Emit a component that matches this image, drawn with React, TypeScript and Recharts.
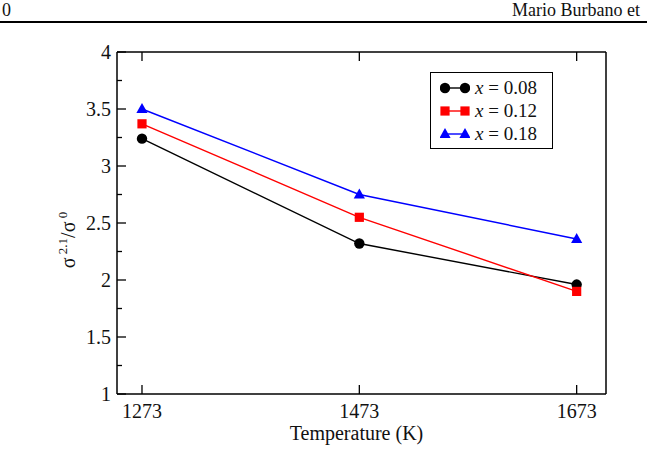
import { LineChart, Line, XAxis, YAxis, Legend } from 'recharts';

// temperatures (K) and the conductivity ratio for each doping level
const temps = [1273, 1473, 1673];
const ratio008 = [3.24, 2.32, 1.96];
const ratio012 = [3.37, 2.55, 1.9];
const ratio018 = [3.5, 2.75, 2.36];

const xTicks = [1273, 1473, 1673];
const yTicks = [1, 1.25, 1.5, 1.75, 2, 2.25, 2.5, 2.75, 3, 3.25, 3.5, 3.75, 4];

const series = [
  { key: 'x008', label: '0.08', color: '#000000', shape: 'circle' },
  { key: 'x012', label: '0.12', color: '#ff0000', shape: 'square' },
  { key: 'x018', label: '0.18', color: '#0000ff', shape: 'triangle' },
];

const data = temps.map((t, i) => ({ temp: t, x008: ratio008[i], x012: ratio012[i], x018: ratio018[i] }));

const FONT = '"Liberation Serif", "Times New Roman", serif';
const LABEL_GAP = 6;
const isMajor = (v: number) => Math.abs(v * 2 - Math.round(v * 2)) < 1e-6;

const Marker = ({ cx, cy, shape, color }: any) => {
  if (shape === 'circle') return <circle cx={cx} cy={cy} r={5.2} fill={color} />;
  if (shape === 'square') return <rect x={cx - 4.6} y={cy - 4.6} width={9.2} height={9.2} fill={color} />;
  return <path d={`M${cx},${cy - 6} L${cx + 5.6},${cy + 4} L${cx - 5.6},${cy + 4} Z`} fill={color} />;
};

const makeDot = (shape: string, color: string) => (props: any) =>
  <Marker key={`${shape}-${props.index}`} cx={props.cx} cy={props.cy} shape={shape} color={color} />;

// left axis: inward ticks, labels only on the half-unit ticks
const LeftTick = ({ x, y, payload }: any) => {
  const edge = x + LABEL_GAP;
  const major = isMajor(payload.value);
  return (
    <g>
      <line x1={edge} x2={edge + (major ? 9 : 5)} y1={y} y2={y} stroke="#000" strokeWidth={1.3} />
      {major && (
        <text x={x} y={y + 7} textAnchor="end" fontFamily={FONT} fontSize={20} fill="#111">
          {payload.value}
        </text>
      )}
    </g>
  );
};

const RightTick = ({ x, y, payload }: any) => {
  const major = isMajor(payload.value);
  return <line x1={x} x2={x - (major ? 9 : 5)} y1={y} y2={y} stroke="#000" strokeWidth={1.3} />;
};

const BottomTick = ({ x, y, payload }: any) => (
  <g>
    <line x1={x} x2={x} y1={y} y2={y - 9} stroke="#000" strokeWidth={1.3} />
    <text x={x} y={y + 24} textAnchor="middle" fontFamily={FONT} fontSize={20} fill="#111">
      {payload.value}
    </text>
  </g>
);

const TopTick = ({ x, y }: any) => <line x1={x} x2={x} y1={y} y2={y + 9} stroke="#000" strokeWidth={1.3} />;

const YLabel = ({ viewBox }: any) => {
  const cx = viewBox.x + 75;
  const cy = viewBox.y + viewBox.height / 2 + 17;
  return (
    <text transform={`translate(${cx},${cy}) rotate(-90)`} textAnchor="middle" fontFamily={FONT} fontSize={20} fill="#111">
      <tspan>σ</tspan>
      <tspan dy={-8} fontSize={13}> 2.1</tspan>
      <tspan dy={8}>/σ</tspan>
      <tspan dy={-8} fontSize={13}> 0</tspan>
    </text>
  );
};

const LegendBox = () => (
  <div style={{ border: '1.5px solid #000', background: '#fff', padding: '3px 0 3px 9px', fontFamily: FONT, fontSize: 19, lineHeight: '23px', color: '#111' }}>
    {series.map(s => (
      <div key={s.key} style={{ display: 'flex', alignItems: 'center', whiteSpace: 'nowrap' }}>
        <svg width={30} height={14} style={{ marginRight: 5 }}>
          <line x1={4} x2={26} y1={7} y2={7} stroke={s.color} strokeWidth={1.4} />
          <Marker cx={5} cy={7} shape={s.shape} color={s.color} />
          <Marker cx={25} cy={7} shape={s.shape} color={s.color} />
        </svg>
        <span><i>x</i> = {s.label}</span>
      </div>
    ))}
  </div>
);

export default function App() {
  return (
    <div style={{ position: 'absolute', left: 0, top: 0, width: 647, height: 454, background: '#fff', fontFamily: FONT }}>
      <div style={{ position: 'absolute', left: 2, top: 0, fontSize: 18, color: '#111' }}>0</div>
      <div style={{ position: 'absolute', right: 7, top: 0, fontSize: 18, color: '#111', whiteSpace: 'nowrap' }}>Mario Burbano et</div>
      <div style={{ position: 'absolute', left: 0, top: 21, width: 647, height: 1.5, background: '#000' }} />
      <LineChart width={647} height={454} data={data} margin={{ top: 0, right: 0, bottom: 0, left: 0 }}>
        <XAxis dataKey="temp" type="number" domain={[1250, 1700]} ticks={xTicks} height={60}
          tickSize={0} tickMargin={0} tickLine={false} tick={<BottomTick />} axisLine={{ stroke: '#000', strokeWidth: 1.5 }}
          label={{ value: 'Temperature (K)', position: 'insideBottom', offset: 14, dx: -5, fontFamily: FONT, fontSize: 20, fill: '#111' }} />
        <XAxis xAxisId="top" orientation="top" dataKey="temp" type="number" domain={[1250, 1700]} ticks={xTicks} height={52}
          tickSize={0} tickMargin={0} tickLine={false} tick={<TopTick />} axisLine={{ stroke: '#000', strokeWidth: 1.5 }} />
        <YAxis type="number" domain={[1, 4]} ticks={yTicks} width={117} interval={0}
          tickSize={0} tickMargin={LABEL_GAP} tickLine={false} tick={<LeftTick />} axisLine={{ stroke: '#000', strokeWidth: 1.5 }}
          label={{ content: <YLabel /> }} />
        <YAxis yAxisId="right" orientation="right" type="number" domain={[1, 4]} ticks={yTicks} width={41} interval={0}
          tickSize={0} tickMargin={0} tickLine={false} tick={<RightTick />} axisLine={{ stroke: '#000', strokeWidth: 1.5 }} />
        <Legend layout="horizontal" verticalAlign="middle" align="center" content={<LegendBox />}
          wrapperStyle={{ left: 430, top: 72, width: 123, height: 'auto' }} />
        {series.map(s => (
          <Line key={s.key} dataKey={s.key} stroke={s.color} strokeWidth={1.4} isAnimationActive={false}
            dot={makeDot(s.shape, s.color)} activeDot={false} />
        ))}
      </LineChart>
    </div>
  );
}
